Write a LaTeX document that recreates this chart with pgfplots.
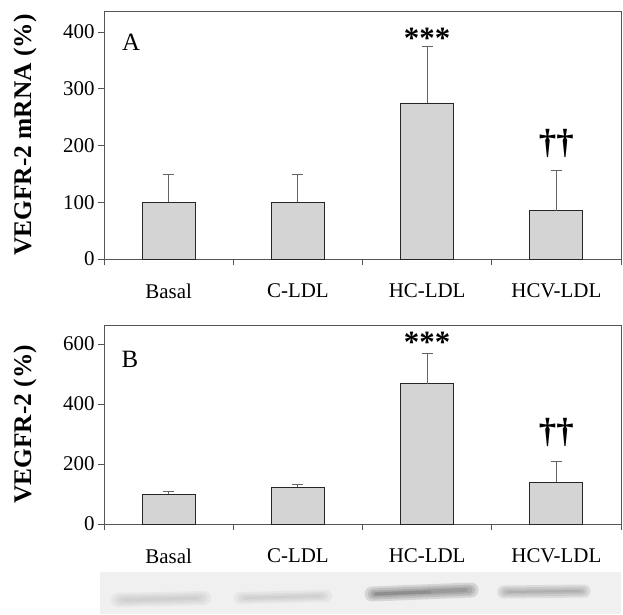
\documentclass[border=0pt]{standalone}
\usepackage{fontspec}
\setmainfont{Liberation Serif}
\usepackage{pgfplots}
\pgfplotsset{compat=1.18}
\definecolor{barfill}{RGB}{212,212,212}
\definecolor{axgray}{RGB}{85,85,85}
\definecolor{errgray}{RGB}{100,100,100}
\begin{document}
\begin{tikzpicture}
\path[use as bounding box] (0bp,0bp) rectangle (623bp,-615bp);
\pgfplotsset{
 panel/.style={
  scale only axis, width=517bp,
  xmin=0, xmax=4, ymin=0,
  axis line style={axgray, line width=0.8pt},
  xtick={0,1,2,3,4}, xticklabels={},
  extra x ticks={0.5,1.5,2.5,3.5},
  extra x tick labels={Basal,C-LDL,HC-LDL,HCV-LDL},
  extra x tick style={major tick length=0pt, xticklabel style={yshift=-21bp}},
  tick align=outside, tick pos=left,
  major tick length=6bp,
  tick style={axgray, line width=0.8pt},
  tick label style={font=\fontsize{21}{24}\selectfont},
  /pgf/number format/assume math mode=true,
  ylabel style={font=\bfseries\fontsize{25.5}{28}\selectfont, at={(axis description cs:-0.153,0.5)}, anchor=center},
 },
 mybar/.style={ybar, bar width=0.41, fill=barfill, draw=black!85, line width=0.8pt,
  error bars/.cd, y dir=plus, y explicit,
  error bar style={errgray, line width=0.8pt},
  error mark options={errgray, line width=0.8pt, mark size=5.5bp, rotate=90}},
 blur/.style={line width=#1, opacity=0.16, line cap=round},
}
% Panel A
\begin{axis}[panel, at={(104bp,-259bp)}, anchor=south west, height=248bp,
  ymax=437, ytick={0,100,200,300,400}, ylabel={VEGFR-2 mRNA (\%)}]
\addplot[mybar] coordinates {(0.5,100) +- (0,49) (1.5,100) +- (0,49) (2.5,275) +- (0,99) (3.5,85) +- (0,71)};
\node[font=\fontsize{25}{28}\selectfont] at (axis cs:0.209,382) {A};
\node[font=\bfseries\fontsize{31}{32}\selectfont] at (axis cs:2.5,388) {***};
\node[font=\bfseries\fontsize{35}{36}\selectfont] at (axis cs:3.5,203) {††};
\end{axis}
% Panel B
\begin{axis}[panel, at={(104bp,-524bp)}, anchor=south west, height=199bp,
  ymax=663, ytick={0,200,400,600}, ylabel={VEGFR-2 (\%)}]
\addplot[mybar] coordinates {(0.5,99) +- (0,11) (1.5,123) +- (0,10) (2.5,467) +- (0,100) (3.5,139) +- (0,70)};
\node[font=\fontsize{25}{28}\selectfont] at (axis cs:0.2,547) {B};
\node[font=\bfseries\fontsize{31}{32}\selectfont] at (axis cs:2.5,605) {***};
\node[font=\bfseries\fontsize{35}{36}\selectfont] at (axis cs:3.5,305) {††};
\end{axis}
% Blot
\begin{axis}[scale only axis, at={(100bp,-614bp)}, anchor=south west, width=521bp, height=42bp,
  xmin=100, xmax=621, ymin=572, ymax=614, y dir=reverse, hide axis, clip=true]
\addplot[fill=gray!12, draw=none] coordinates {(100,572) (621,572) (621,614) (100,614)} -- cycle;
% Basal band
\addplot[gray!60, blur=14bp] coordinates {(118,600) (204,598)};
\addplot[gray!60, blur=10bp] coordinates {(120,600) (202,598)};
\addplot[gray!60, blur=6bp] coordinates {(122,600) (200,598)};
\addplot[gray!60, blur=3bp] coordinates {(124,600) (198,598)};
% C-LDL band
\addplot[gray!60, blur=12bp] coordinates {(240,598) (326,596)};
\addplot[gray!60, blur=8bp] coordinates {(242,598) (324,596)};
\addplot[gray!60, blur=5bp] coordinates {(244,598) (322,596)};
\addplot[gray!60, blur=2bp] coordinates {(246,598) (320,596)};
% HC-LDL band
\addplot[black!70, blur=15bp] coordinates {(372,594) (471,590)};
\addplot[black!70, blur=11bp] coordinates {(373,594) (470,590)};
\addplot[black!70, blur=7bp] coordinates {(374,594) (469,590)};
\addplot[black!70, blur=4bp] coordinates {(375,594) (466,590)};
\addplot[black!70, blur=3bp] coordinates {(376,594) (430,592)};
% HCV-LDL band
\addplot[black!55, blur=13bp] coordinates {(504,592) (584,591)};
\addplot[black!55, blur=9bp] coordinates {(505,592) (583,591)};
\addplot[black!55, blur=5bp] coordinates {(506,592) (582,591)};
\addplot[black!55, blur=2bp] coordinates {(508,592) (580,591)};
\end{axis}
\end{tikzpicture}
\end{document}
